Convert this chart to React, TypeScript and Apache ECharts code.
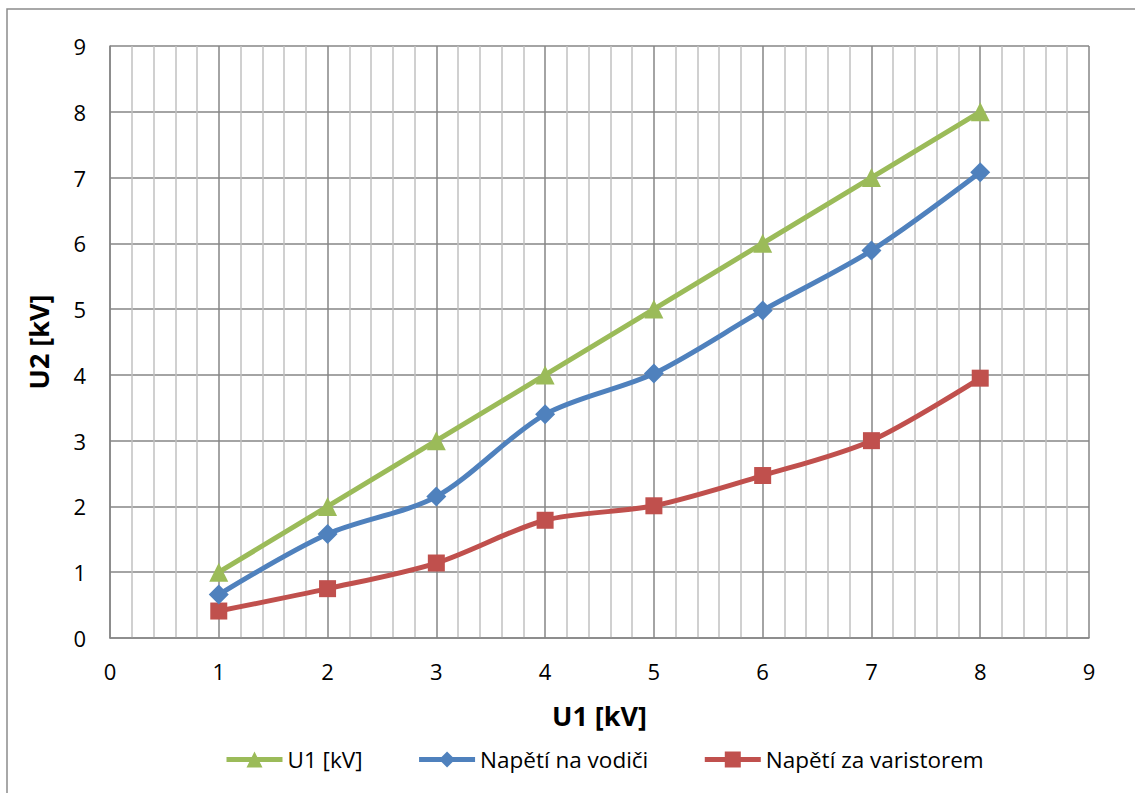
import React, { useEffect, useRef } from "react";
import * as echarts from "echarts";

// Measured input voltage U1 and output voltages U2 (kV)
const u1Values = [1, 2, 3, 4, 5, 6, 7, 8];
const seriesU1 = [1, 2, 3, 4, 5, 6, 7, 8];
const seriesVodic = [0.66, 1.58, 2.15, 3.4, 4.02, 4.98, 5.89, 7.08];
const seriesVaristor = [0.41, 0.75, 1.14, 1.79, 2.01, 2.47, 3.0, 3.95];

const seriesNames = ["U1 [kV]", "Napětí na vodiči", "Napětí za varistorem"];
const colors = ["#9BBB59", "#4F81BD", "#C0504D"];
const symbols = ["triangle", "diamond", "rect"];
const symbolSizes = [19, 20, 17];

const FONT = "'Open Sans', 'Liberation Sans', sans-serif";

export default function App() {
  const ref = useRef<HTMLDivElement>(null);

  useEffect(() => {
    if (!ref.current) return;
    const chart = echarts.init(ref.current, undefined, { renderer: "svg" });
    const values = [seriesU1, seriesVodic, seriesVaristor];

    chart.setOption({
      animation: false,
      backgroundColor: "#ffffff",
      textStyle: { fontFamily: FONT },
      graphic: [
        {
          type: "rect",
          shape: { x: 7, y: 9, width: 1140, height: 800 },
          style: { fill: "none", stroke: "#8c8c8c", lineWidth: 1.5 },
          silent: true,
        },
      ],
      grid: { left: 110, top: 46, right: 46, bottom: 155, containLabel: false },
      legend: {
        data: seriesNames,
        bottom: 22,
        left: 224,
        padding: 0,
        itemWidth: 56,
        itemHeight: 20,
        itemGap: 54,
        lineStyle: { width: 5 },
        textStyle: { fontFamily: FONT, fontSize: 22.5, color: "#000" },
      },
      xAxis: {
        type: "value",
        min: 0,
        max: 9,
        interval: 1,
        name: "U1 [kV]",
        nameLocation: "middle",
        nameGap: 64,
        nameTextStyle: { fontFamily: FONT, fontSize: 27, fontWeight: "bold", color: "#000" },
        axisLine: { show: true, lineStyle: { color: "#868686", width: 1.5 } },
        axisTick: { show: false },
        axisLabel: { fontFamily: FONT, fontSize: 22, color: "#000", margin: 22 },
        splitLine: { show: true, lineStyle: { color: "#868686", width: 1.5 } },
        minorTick: { show: false, splitNumber: 5 },
        minorSplitLine: { show: true, lineStyle: { color: "#c0c0c0", width: 1.5 } },
      },
      yAxis: {
        type: "value",
        min: 0,
        max: 9,
        interval: 1,
        name: "U2 [kV]",
        nameLocation: "middle",
        nameGap: 58,
        nameRotate: 90,
        nameTextStyle: { fontFamily: FONT, fontSize: 27, fontWeight: "bold", color: "#000" },
        axisLine: { show: true, lineStyle: { color: "#868686", width: 1.5 } },
        axisTick: { show: false },
        axisLabel: { fontFamily: FONT, fontSize: 22, color: "#000", margin: 24 },
        splitLine: { show: true, lineStyle: { color: "#868686", width: 1.5 } },
      },
      series: seriesNames.map((name, i) => ({
        name,
        type: "line",
        data: u1Values.map((x, j) => [x, values[i][j]]),
        smooth: i === 0 ? false : 0.3,
        symbol: symbols[i],
        symbolSize: symbolSizes[i],
        itemStyle: { color: colors[i] },
        lineStyle: { color: colors[i], width: 5 },
        z: 10 - i,
      })),
    });

    return () => chart.dispose();
  }, []);

  return (
    <div
      ref={ref}
      style={{ position: "absolute", left: 0, top: 0, width: 1135, height: 793 }}
    />
  );
}
